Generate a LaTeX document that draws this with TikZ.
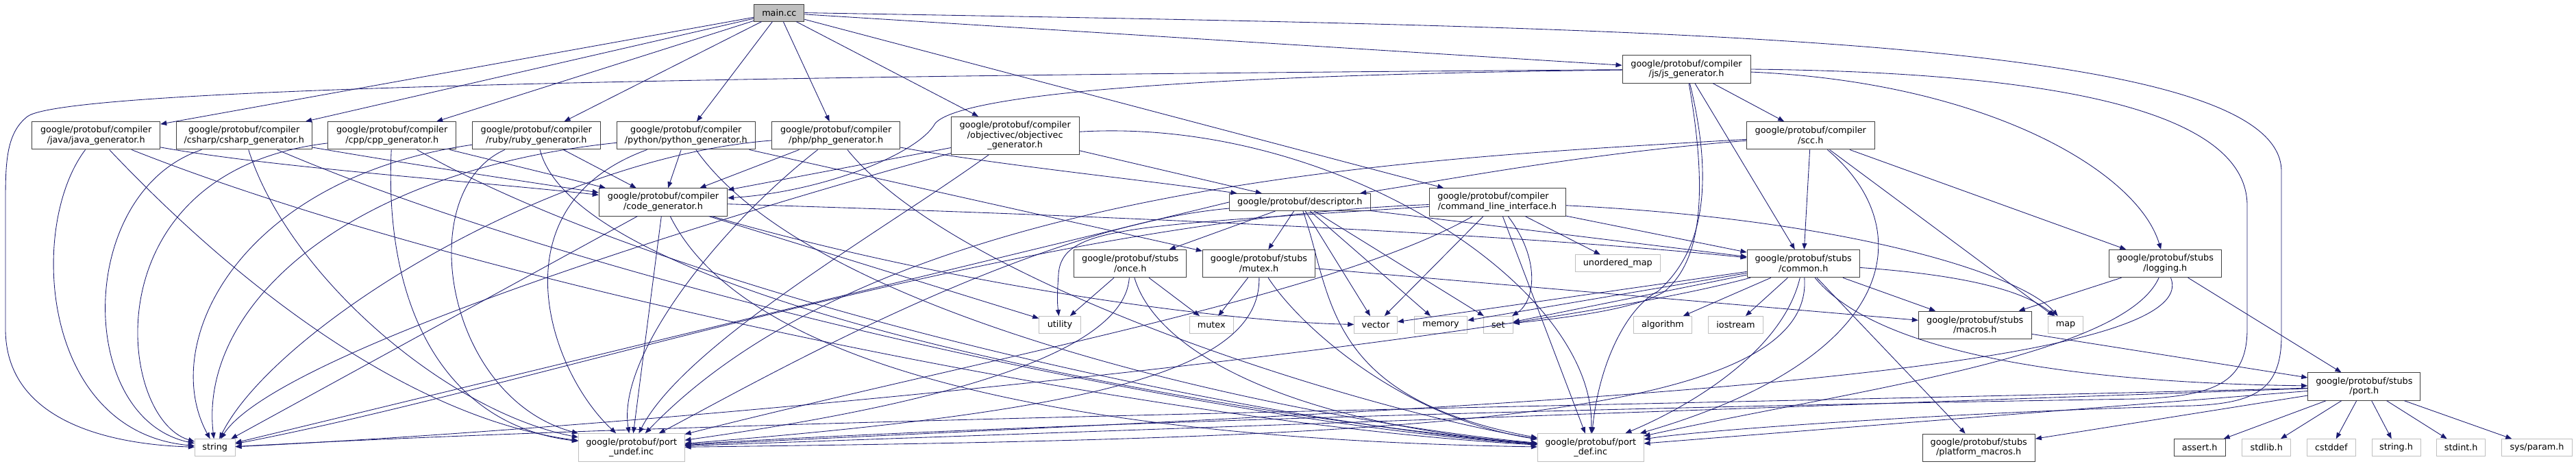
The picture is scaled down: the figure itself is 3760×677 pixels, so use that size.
\documentclass[tikz,border=0pt]{standalone}
\usepackage{fontspec}
\setmainfont{DejaVu Sans}
\usetikzlibrary{arrows.meta}
\definecolor{edgec}{HTML}{191970}
\definecolor{gbord}{HTML}{BFBFBF}
\definecolor{dbord}{HTML}{404040}
\tikzset{
  nd/.style={rectangle, inner sep=0pt, align=center, line width=1pt,
    font=\fontsize{12.8}{14.7}\selectfont, text=black},
  doc/.style={nd, draw=dbord},
  sys/.style={nd, draw=gbord},
  one/.style={minimum height=25pt},
  two/.style={minimum height=40.3pt},
  e/.style={draw=edgec, line width=0.85pt, -{Triangle[length=9pt,width=7pt]}},
}
\begin{document}
\begin{tikzpicture}[x=1pt,y=-1pt]
\useasboundingbox[fill=white] (0,0) rectangle (3760,677);
% ---------------- nodes ----------------
\node[doc,one,fill=gbord,minimum width=73.3pt] (main) at (1137.3,18.6) {main.cc};
\node[doc,two,minimum width=187pt] (java) at (140.2,197.8) {google/protobuf/compiler\\/java/java\_generator.h};
\node[doc,two,minimum width=197.7pt] (csharp) at (356.2,197.8) {google/protobuf/compiler\\/csharp/csharp\_generator.h};
\node[doc,two,minimum width=187pt] (cpp) at (572.2,197.8) {google/protobuf/compiler\\/cpp/cpp\_generator.h};
\node[doc,two,minimum width=187pt] (ruby) at (782.8,197.8) {google/protobuf/compiler\\/ruby/ruby\_generator.h};
\node[doc,two,minimum width=202pt] (python) at (1001.3,197.8) {google/protobuf/compiler\\/python/python\_generator.h};
\node[doc,two,minimum width=187pt] (php) at (1220.2,197.8) {google/protobuf/compiler\\/php/php\_generator.h};
\node[doc,minimum height=55pt,minimum width=186.7pt] (objc) at (1481.7,197.8) {google/protobuf/compiler\\/objectivec/objectivec\hspace*{22pt}\\\_generator.h};
\node[doc,two,minimum width=187pt] (js) at (2461.5,101) {google/protobuf/compiler\\/js/js\_generator.h};
\node[doc,two,minimum width=187pt] (scc) at (2642.8,197.8) {google/protobuf/compiler\\/scc.h};
\node[doc,two,minimum width=187.4pt] (codegen) at (968,294.9) {google/protobuf/compiler\\/code\_generator.h};
\node[doc,one,minimum width=206pt] (descr) at (1897.3,295) {google/protobuf/descriptor.h};
\node[doc,two,minimum width=199pt] (cli) at (2185.5,294.9) {google/protobuf/compiler\hspace*{12pt}\\/command\_line\_interface.h};
\node[doc,two,minimum width=164pt] (once) at (1649.7,384.6) {google/protobuf/stubs\\/once.h};
\node[doc,two,minimum width=164.4pt] (mutexh) at (1837.5,384.6) {google/protobuf/stubs\\/mutex.h};
\node[doc,two,minimum width=164.3pt] (common) at (2632.2,384.6) {google/protobuf/stubs\\/common.h};
\node[doc,two,minimum width=164pt] (logging) at (3160.3,384.6) {google/protobuf/stubs\\/logging.h};
\node[sys,one,minimum width=124pt] (umap) at (2361.3,384.3) {unordered\_map};
\node[sys,one,minimum width=60.6pt] (utility) at (1547,474) {utility};
\node[sys,one,minimum width=63.7pt] (mutex) at (1768.2,474) {mutex};
\node[sys,one,minimum width=62.6pt] (vector) at (2008,474) {vector};
\node[sys,one,minimum width=77.4pt] (memory) at (2103,474) {memory};
\node[sys,one,minimum width=43pt] (set) at (2186.8,474) {set};
\node[sys,one,minimum width=85.4pt] (algorithm) at (2427,474) {algorithm};
\node[sys,one,minimum width=80.4pt] (iostream) at (2533.5,474) {iostream};
\node[doc,two,minimum width=164.7pt] (macros) at (2882.7,474.3) {google/protobuf/stubs\\/macros.h};
\node[sys,one,minimum width=50.6pt] (map) at (3015,474) {map};
\node[doc,two,minimum width=164.3pt] (porth) at (3450.8,564) {google/protobuf/stubs\\/port.h};
\node[sys,one,minimum width=58.7pt] (string) at (313.7,653.2) {string};
\node[sys,minimum height=41pt,minimum width=154.7pt] (undef) at (921.7,653.2) {google/protobuf/port\\\_undef.inc};
\node[sys,minimum height=41pt,minimum width=154.7pt] (def) at (2321.7,653.2) {google/protobuf/port\\\_def.inc};
\node[doc,two,minimum width=164.3pt] (platform) at (2888.2,653.2) {google/protobuf/stubs\\/platform\_macros.h};
\node[doc,one,minimum width=74.7pt] (assert) at (3210.7,653.2) {assert.h};
\node[sys,one,minimum width=71pt] (stdlib) at (3308.2,653.2) {stdlib.h};
\node[sys,one,minimum width=71pt] (cstddef) at (3402.8,653.2) {cstddef};
\node[sys,one,minimum width=71pt] (stringh) at (3497.5,653.2) {string.h};
\node[sys,one,minimum width=71pt] (stdint) at (3592.2,653.2) {stdint.h};
\node[sys,one,minimum width=102.6pt] (sysparam) at (3703,653.2) {sys/param.h};
% ---------------- edges ----------------
% main.cc
\draw[e] (main) -- (java);
\draw[e] (main) -- (csharp);
\draw[e] (main) -- (cpp);
\draw[e] (main) -- (ruby);
\draw[e] (main) -- (python);
\draw[e] (main) -- (php);
\draw[e] (main) -- (objc);
\draw[e] (main) -- (js);
\draw[e] (main) -- (cli);
\draw[e] (main.east) .. controls (2400,40) and (3330,50) .. (3330,250) -- (3330,490) .. controls (3330,570) and (3290,588) .. (3200,592) .. controls (2900,600) and (2500,625) .. (def);
% java
\draw[e] (java) .. controls (40,330) and (60,630) .. (string);
\draw[e] (java) .. controls (400,245) and (700,265) .. (codegen);
\draw[e] (java) .. controls (700,420) and (1700,620) .. (def);
\draw[e] (java) .. controls (350,420) and (600,610) .. (undef);
% csharp
\draw[e] (csharp) .. controls (110,280) and (110,610) .. (string);
\draw[e] (csharp) .. controls (600,240) and (800,270) .. (codegen);
\draw[e] (csharp) .. controls (900,430) and (1800,620) .. (def);
\draw[e] (csharp) .. controls (420,400) and (650,600) .. (undef);
% cpp
\draw[e] (cpp) .. controls (130,250) and (170,610) .. (string);
\draw[e] (cpp) -- (codegen);
\draw[e] (cpp) .. controls (1000,440) and (1850,620) .. (def);
\draw[e] (cpp) .. controls (560,450) and (650,620) .. (undef);
% ruby
\draw[e] (ruby) .. controls (350,260) and (230,500) .. (string);
\draw[e] (ruby) -- (codegen);
\draw[e] (ruby) .. controls (850,460) and (1900,620) .. (def);
\draw[e] (ruby) .. controls (600,280) and (650,580) .. (undef);
% python
\draw[e] (python) .. controls (500,250) and (290,450) .. (string);
\draw[e] (python) -- (codegen);
\draw[e] (python) -- (mutexh);
\draw[e] (python) .. controls (1200,480) and (1950,620) .. (def);
\draw[e] (python) .. controls (720,300) and (800,540) .. (undef);
% php
\draw[e] (php) .. controls (800,230) and (400,480) .. (string);
\draw[e] (php) -- (codegen);
\draw[e] (php) .. controls (1450,240) and (1650,260) .. (descr);
\draw[e] (php) .. controls (1400,420) and (2000,600) .. (def);
\draw[e] (php) .. controls (1050,330) and (900,520) .. (undef);
% objectivec
\draw[e] (objc) .. controls (1000,330) and (400,520) .. (string);
\draw[e] (objc) -- (codegen);
\draw[e] (objc) -- (descr);
\draw[e] (objc) .. controls (1950,170) and (2330,420) .. (def);
\draw[e] (objc) .. controls (1300,330) and (1000,500) .. (undef);
% js
\draw[e] (js) .. controls (1200,110) and (100,125) .. (40,170) .. controls (8,195) and (8,240) .. (8,300) -- (8,480) .. controls (8,610) and (150,648) .. (string);
\draw[e] (js) .. controls (1700,110) and (1400,140) .. (1365,180) .. controls (1340,225) and (1200,280) .. (codegen);
\draw[e] (js) -- (scc);
\draw[e] (js) -- (common);
\draw[e] (js) .. controls (2900,120) and (3120,250) .. (logging);
\draw[e] (js) .. controls (2500,320) and (2470,390) .. (2430,425) .. controls (2390,450) and (2300,462) .. (set);
\draw[e] (js) .. controls (2510,300) and (2470,380) .. (2420,425) .. controls (2380,445) and (2335,520) .. (def);
\draw[e] (js.east) .. controls (2950,105) and (3280,150) .. (3280,300) -- (3280,480) .. controls (3280,560) and (3230,578) .. (3120,582) .. controls (2000,600) and (1300,630) .. (undef);
% scc
\draw[e] (scc) -- (map);
\draw[e] (scc) -- (logging);
\draw[e] (scc) -- (common);
\draw[e] (scc) .. controls (2300,225) and (2100,265) .. (descr);
\draw[e] (scc) .. controls (2800,330) and (2780,520) .. (def);
\draw[e] (scc) .. controls (2100,230) and (1300,260) .. (undef);
% code_generator
\draw[e] (codegen) -- (string);
\draw[e] (codegen) -- (utility);
\draw[e] (codegen) .. controls (1400,420) and (1800,470) .. (vector);
\draw[e] (codegen) .. controls (1800,320) and (2300,350) .. (common);
\draw[e] (codegen) .. controls (1080,520) and (1500,640) .. (def);
\draw[e] (codegen) -- (undef);
% descriptor
\draw[e] (descr) -- (memory);
\draw[e] (descr) -- (set);
\draw[e] (descr) -- (vector);
\draw[e] (descr) -- (once);
\draw[e] (descr) -- (mutexh);
\draw[e] (descr) -- (common);
\draw[e] (descr.west) -- (string);
\draw[e] (descr) .. controls (1945,430) and (1930,580) .. (def);
\draw[e] (descr) .. controls (1500,330) and (1100,560) .. (undef);
% command_line_interface
\draw[e] (cli) -- (umap);
\draw[e] (cli) -- (vector);
\draw[e] (cli) .. controls (2250,380) and (2240,440) .. (set);
\draw[e] (cli) .. controls (1650,330) and (1550,330) .. (1545,400) .. controls (1543,430) and (1543,440) .. (utility);
\draw[e] (cli) -- (common);
\draw[e] (cli) .. controls (2700,320) and (2950,400) .. (map);
\draw[e] (cli) .. controls (1500,320) and (800,560) .. (string);
\draw[e] (cli) -- (def);
\draw[e] (cli) .. controls (1950,430) and (1450,520) .. (undef);
% once
\draw[e] (once) -- (utility);
\draw[e] (once) -- (mutex);
\draw[e] (once) .. controls (1690,520) and (1900,620) .. (def);
\draw[e] (once) .. controls (1640,530) and (1300,600) .. (undef);
% mutex.h
\draw[e] (mutexh) -- (mutex);
\draw[e] (mutexh) -- (macros);
\draw[e] (mutexh) .. controls (1900,480) and (2050,610) .. (def);
\draw[e] (mutexh) .. controls (1840,540) and (1600,600) .. (undef);
% common
\draw[e] (common) -- (vector);
\draw[e] (common) -- (memory);
\draw[e] (common) -- (set);
\draw[e] (common) -- (algorithm);
\draw[e] (common) -- (iostream);
\draw[e] (common) -- (macros);
\draw[e] (common) .. controls (2850,400) and (2950,420) .. (map);
\draw[e] (common) -- (platform);
\draw[e] (common) .. controls (2760,540) and (3150,560) .. (porth);
\draw[e] (common) .. controls (2200,500) and (1000,620) .. (string);
\draw[e] (common) .. controls (2600,520) and (2450,600) .. (def);
\draw[e] (common) .. controls (2650,620) and (2000,640) .. (undef);
% logging
\draw[e] (logging) -- (macros);
\draw[e] (logging) -- (porth);
\draw[e] (logging) .. controls (3100,520) and (2700,570) .. (def);
\draw[e] (logging) .. controls (3230,560) and (2000,600) .. (undef);
% macros
\draw[e] (macros) -- (porth);
% port.h
\draw[e] (porth) -- (assert);
\draw[e] (porth) -- (stdlib);
\draw[e] (porth) -- (cstddef);
\draw[e] (porth) -- (stringh);
\draw[e] (porth) -- (stdint);
\draw[e] (porth) -- (sysparam);
\draw[e] (porth) -- (platform);
\draw[e] (porth) -- (def);
\draw[e] (porth) -- (undef);
\draw[e] (porth) .. controls (2500,590) and (1100,610) .. (string);
\end{tikzpicture}
\end{document}
